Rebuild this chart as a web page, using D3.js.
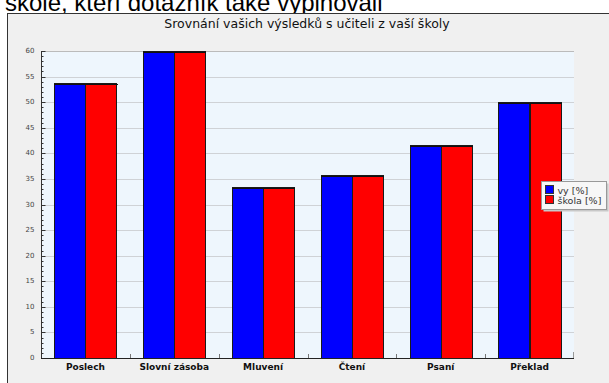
<!DOCTYPE html>
<html>
<head>
<meta charset="utf-8">
<script src="https://cdn.jsdelivr.net/npm/d3@7"></script>
<style>
body { margin: 0; background: #ffffff; overflow: hidden; }
</style>
</head>
<body>
<script>
var categories = ['Poslech', 'Slovní zásoba', 'Mluvení', 'Čtení', 'Psaní', 'Překlad'];
var seriesNames = ['vy [%]', 'škola [%]'];
var vyValues = [53.7, 60, 33.4, 35.8, 41.7, 50];
var skolaValues = [53.7, 60, 33.4, 35.8, 41.7, 50];
var yTicks = [0, 5, 10, 15, 20, 25, 30, 35, 40, 45, 50, 55, 60];
var colors = ['#0000ff', '#ff0000'];

var svg = d3.select("body").append("svg")
	.attr("width", 609)
	.attr("height", 383)

// heading text above the panel (cut off by the panel)
svg.append("text")
	.attr("x", 5)
	.attr("y", 11)
	.attr("font-family", "Liberation Sans, Arial, sans-serif")
	.attr("font-size", 24)
	.attr("fill", "#000")
	.text("škole, kteří dotazník také vyplňovali")

// grey chart panel
svg.append("rect")
	.attr("x", 7.5)
	.attr("y", 13.5)
	.attr("width", 620)
	.attr("height", 400)
	.attr("fill", "#f0f0f0")
	.attr("stroke", "#333")

svg.append("text")
	.attr("x", 307)
	.attr("y", 28)
	.attr("text-anchor", "middle")
	.attr("font-family", "DejaVu Sans, sans-serif")
	.attr("font-size", 12.5)
	.attr("fill", "#111")
	.text("Srovnání vašich výsledků s učiteli z vaší školy")

var plotLeft = 41, plotRight = 574, plotTop = 51, plotBottom = 358;

var x = d3.scaleBand().domain(categories).range([plotLeft, plotRight]);
var y = d3.scaleLinear().domain([0, 60]).range([plotBottom, plotTop]);

// plot background
svg.append("rect")
	.attr("x", plotLeft)
	.attr("y", plotTop)
	.attr("width", plotRight - plotLeft)
	.attr("height", plotBottom - plotTop)
	.attr("fill", "#eef6fd")

// grid lines
svg.append("g").selectAll("line")
	.data(yTicks.filter(function (d) { return d > 0; }))
	.enter().append("line")
	.attr("x1", plotLeft)
	.attr("x2", plotRight)
	.attr("y1", function (d) { return Math.round(y(d)) + 0.5; })
	.attr("y2", function (d) { return Math.round(y(d)) + 0.5; })
	.attr("stroke", function (d) { return d == 60 ? "#bbb" : "#cfd2d6"; })

svg.append("line")
	.attr("x1", plotRight - 0.5).attr("x2", plotRight - 0.5)
	.attr("y1", plotBottom - 6).attr("y2", plotBottom)
	.attr("stroke", "#999")

// bars
var inner = d3.scaleBand().domain([0, 1])
	.range([x.bandwidth() * 0.15, x.bandwidth() * 0.85]);
var seriesData = [vyValues, skolaValues];

categories.forEach(function (c, i) {
	var g = svg.append("g");
	g.selectAll("rect")
		.data([0, 1])
		.enter().append("rect")
		.attr("x", function (s) { return Math.round(x(c) + inner(s)) + 0.5; })
		.attr("y", function (s) { return Math.round(y(seriesData[s][i])) + 0.5; })
		.attr("width", Math.round(inner.bandwidth()))
		.attr("height", function (s) { return plotBottom - Math.round(y(seriesData[s][i])); })
		.attr("fill", function (s) { return colors[s]; })
		.attr("stroke", "#1a1a1a")
	g.append("line")
		.attr("x1", Math.round(x(c) + inner(0)))
		.attr("x2", Math.round(x(c) + inner(1) + inner.bandwidth()) + 1)
		.attr("y1", Math.round(y(vyValues[i])) + 1.5)
		.attr("y2", Math.round(y(vyValues[i])) + 1.5)
		.attr("stroke", "#111")
		.attr("stroke-width", 1)
});

// y axis with minor ticks
var yAxis = svg.append("g").attr("transform", "translate(" + (plotLeft + 0.5) + ",0)");
yAxis.append("line").attr("y1", plotTop).attr("y2", plotBottom).attr("stroke", "#333");
yAxis.selectAll("line.minor")
	.data(d3.range(0, 61))
	.enter().append("line")
	.attr("class", "minor")
	.attr("x1", 0)
	.attr("x2", function (d) { return d % 5 == 0 ? 4 : 2; })
	.attr("y1", function (d) { return Math.round(y(d)) + 0.5; })
	.attr("y2", function (d) { return Math.round(y(d)) + 0.5; })
	.attr("stroke", "#333")
yAxis.selectAll("text")
	.data(yTicks)
	.enter().append("text")
	.attr("x", -7)
	.attr("y", function (d) { return y(d) + 2; })
	.attr("text-anchor", "end")
	.attr("font-family", "DejaVu Sans, sans-serif")
	.attr("font-size", 7)
	.attr("fill", "#444")
	.text(function (d) { return d; })

// x axis
var xAxis = svg.append("g");
xAxis.append("line")
	.attr("x1", plotLeft).attr("x2", plotRight)
	.attr("y1", plotBottom + 0.5).attr("y2", plotBottom + 0.5)
	.attr("stroke", "#222")
xAxis.selectAll("line.tick")
	.data(categories.slice(1))
	.enter().append("line")
	.attr("class", "tick")
	.attr("x1", function (d) { return Math.round(x(d)) + 0.5; })
	.attr("x2", function (d) { return Math.round(x(d)) + 0.5; })
	.attr("y1", plotBottom - 4).attr("y2", plotBottom)
	.attr("stroke", "#777")
xAxis.selectAll("text")
	.data(categories)
	.enter().append("text")
	.attr("x", function (d) { return x(d) + x.bandwidth() / 2; })
	.attr("y", plotBottom + 12)
	.attr("text-anchor", "middle")
	.attr("font-family", "DejaVu Sans, sans-serif")
	.attr("font-weight", "bold")
	.attr("font-size", 9)
	.attr("fill", "#111")
	.text(function (d) { return d; })

// legend
var legend = svg.append("g").attr("transform", "translate(541.5,181.5)");
legend.append("rect")
	.attr("x", 2).attr("y", 2).attr("width", 65).attr("height", 28)
	.attr("fill", "#c8c8c8")
legend.append("rect")
	.attr("width", 65).attr("height", 28)
	.attr("fill", "#f7f7f7")
	.attr("stroke", "#999")
var items = legend.selectAll("g.item")
	.data(seriesNames)
	.enter().append("g")
	.attr("transform", function (d, i) { return "translate(4," + (4 + i * 10) + ")"; })
items.append("rect")
	.attr("width", 8).attr("height", 8)
	.attr("fill", function (d, i) { return colors[i]; })
	.attr("stroke", "#333")
items.append("text")
	.attr("x", 12)
	.attr("y", 8)
	.attr("font-family", "DejaVu Sans, sans-serif")
	.attr("font-size", 9.5)
	.attr("fill", "#333")
	.text(function (d) { return d; })
</script>
</body>
</html>
